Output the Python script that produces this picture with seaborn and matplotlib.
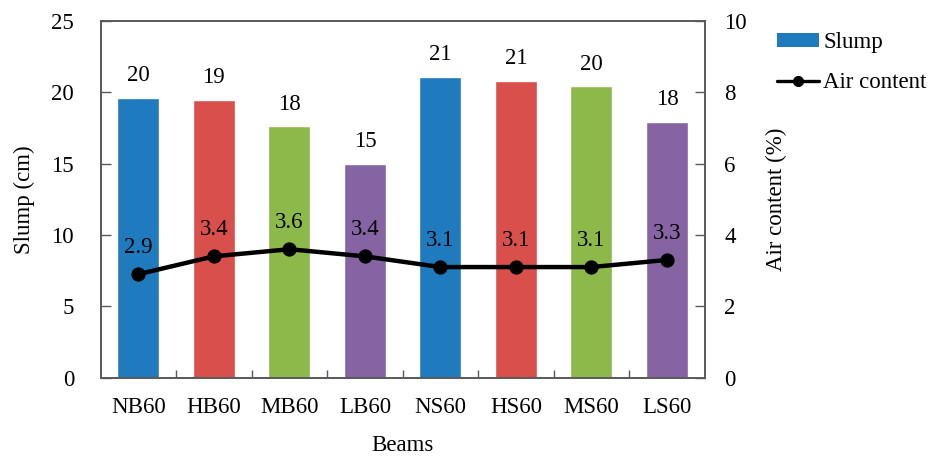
import matplotlib
matplotlib.use("Agg")
import matplotlib.pyplot as plt
import seaborn as sns
import pandas as pd
from matplotlib.patches import Patch
from matplotlib.lines import Line2D

beams = ["NB60", "HB60", "MB60", "LB60", "NS60", "HS60", "MS60", "LS60"]
slump = [19.6, 19.45, 17.6, 15.0, 21.05, 20.8, 20.4, 17.9]
slump_labels = ["20", "19", "18", "15", "21", "21", "20", "18"]
air = [2.9, 3.4, 3.6, 3.4, 3.1, 3.1, 3.1, 3.3]
air_labels = ["2.9", "3.4", "3.6", "3.4", "3.1", "3.1", "3.1", "3.3"]
colors = ["#1F7BBD", "#D94F4B", "#8DB84A", "#8664A3",
          "#1F7BBD", "#D94F4B", "#8DB84A", "#8664A3"]

sns.set_style("white")
plt.rcParams["font.family"] = ["Liberation Serif", "DejaVu Serif"]
plt.rcParams["text.color"] = "black"
plt.rcParams["axes.labelcolor"] = "black"
plt.rcParams["xtick.color"] = "black"
plt.rcParams["ytick.color"] = "black"

FS = 16.5
SPINE = "#595959"

df = pd.DataFrame({"Beams": beams, "Slump": slump, "Air": air})

fig = plt.figure(figsize=(9.31, 4.57), dpi=100)
ax = fig.add_axes([0.108, 0.1735, 0.649, 0.781])
sns.barplot(data=df, x="Beams", y="Slump", hue="Beams", palette=colors,
            width=0.556, legend=False, ax=ax, saturation=1)
ax.set_xlim(-0.5, 7.5)
ax.set_ylim(0, 25)
ax.set_yticks([0, 5, 10, 15, 20, 25])
ax.set_ylabel("Slump (cm)", fontsize=FS, labelpad=12)
ax.set_xlabel("Beams", fontsize=FS, labelpad=12)
for i, (v, lab) in enumerate(zip(slump, slump_labels)):
    ax.annotate(lab, (i, v), xytext=(0, 16), textcoords="offset points",
                ha="center", va="center", fontsize=FS)

ax.set_xticks(range(len(beams)))
ax.set_xticklabels(beams, fontsize=FS)
ax.tick_params(axis="x", which="major", bottom=False, length=0, pad=14)
ax.set_xticks([i + 0.5 for i in range(len(beams) - 1)], minor=True)
ax.tick_params(axis="x", which="minor", bottom=True, length=6, width=1,
               direction="in", color=SPINE)
ax.tick_params(axis="y", left=True, labelsize=FS, direction="in", length=7,
               width=1, color=SPINE, pad=19)
for s in ax.spines.values():
    s.set_color(SPINE)
    s.set_linewidth(1.2)

ax2 = ax.twinx()
sns.lineplot(data=df, x="Beams", y="Air", ax=ax2, color="black", linewidth=3.2,
             marker="o", markersize=9.5, markeredgecolor="black")
ax2.set_ylim(0, 10)
ax2.set_yticks([0, 2, 4, 6, 8, 10])
ax2.set_ylabel("Air content (%)", fontsize=FS, labelpad=14)
ax2.tick_params(axis="y", right=True, labelsize=FS, direction="in", length=7,
                width=1, color=SPINE, pad=14)
for s in ax2.spines.values():
    s.set_color(SPINE)
    s.set_linewidth(1.2)
for i, (v, lab) in enumerate(zip(air, air_labels)):
    ax2.annotate(lab, (i, v), xytext=(0, 19), textcoords="offset points",
                 ha="center", va="center", fontsize=FS)

handles = [Patch(facecolor="#1F7BBD", edgecolor="none"),
           Line2D([0], [0], color="black", linewidth=2.4, marker="o", markersize=7)]
fig.legend(handles, ["Slump", "Air content"], loc="upper left",
           bbox_to_anchor=(0.830, 0.940), frameon=False, fontsize=FS,
           handlelength=1.8, handleheight=0.55, handletextpad=0.2,
           labelspacing=0.85, borderpad=0.2, borderaxespad=0.0)

fig.savefig("out.png", dpi=100)
